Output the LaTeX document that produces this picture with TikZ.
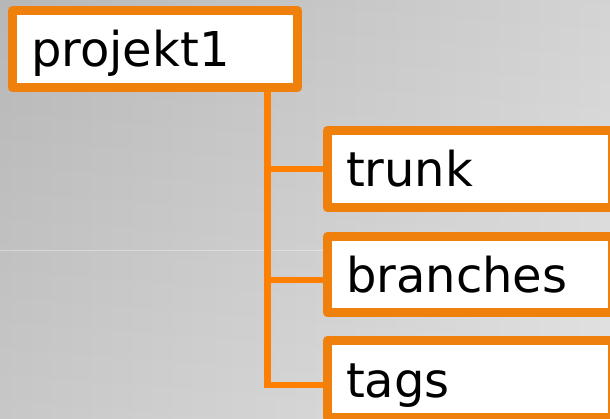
\documentclass[tikz,border=0pt]{standalone}
\usepackage{fontspec}
\setmainfont{DejaVu Sans}
\definecolor{boxor}{RGB}{240,128,12}
\definecolor{connor}{RGB}{255,128,0}
\definecolor{bgL}{RGB}{196,196,196}
\definecolor{bgR}{RGB}{226,226,226}
\begin{document}
\begin{tikzpicture}[x=1pt,y=-1pt,
  box/.style={draw=boxor, line width=9pt, fill=white, line join=round,
    rectangle, minimum width=285pt, minimum height=77pt,
    inner xsep=18.5pt, inner ysep=0pt, text width=248pt, align=left,
    text height=36pt, text depth=0pt,
    font=\fontsize{48}{58}\selectfont, anchor=north west},
  conn/.style={draw=connor, line width=6.5pt}]
\useasboundingbox (0,0) rectangle (610,419);
\shade[left color=bgL, right color=bgR] (0,0) rectangle (610,419);
\shade[top color=black, bottom color=white, opacity=0.063] (0,0) rectangle (610,419);
\draw[white, opacity=0.35, line width=1pt] (0,250.5) -- (323,250.5);

\node[box] (p) at (8,6) {projekt1};
\node[box] (trunk) at (323,126) {trunk};
\node[box, minimum height=76pt] (branches) at (323,232) {branches};
\node[box] (tags) at (323,336) {tags};

\coordinate (spine) at ([xshift=112.5pt]p.south);
\draw[conn] (spine) |- ([yshift=-6pt]tags.west);
\draw[conn] (trunk.west) -- (trunk.west -| spine);
\draw[conn] ([yshift=-5.5pt]branches.west) -- ([yshift=-5.5pt]branches.west -| spine);
\end{tikzpicture}
\end{document}
